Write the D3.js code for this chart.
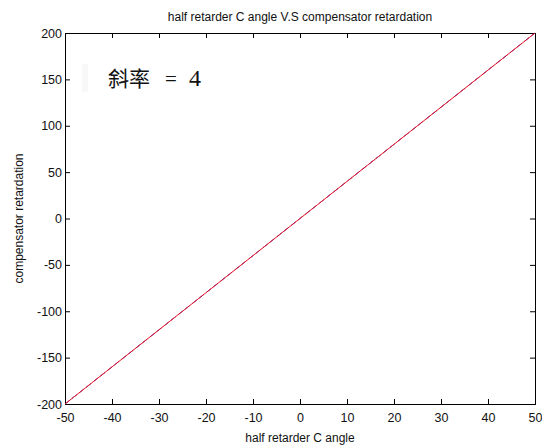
<!DOCTYPE html>
<html>
<head>
<meta charset="utf-8">
<script src="https://cdn.jsdelivr.net/npm/d3@7"></script>
<style>
  body { margin: 0; background: #fff; }
  svg text { font-family: "Liberation Sans", Arial, sans-serif; fill: #111; }
</style>
</head>
<body>
<div id="chart"></div>
<script>
var angleData = [-50, -45, -40, -35, -30, -25, -20, -15, -10, -5, 0, 5, 10, 15, 20, 25, 30, 35, 40, 45, 50];
var retardData = [-200, -180, -160, -140, -120, -100, -80, -60, -40, -20, 0, 20, 40, 60, 80, 100, 120, 140, 160, 180, 200];
var fitAngle = [-50, 50];
var fitRetard = [-200, 200];

var xTicks = [-50, -40, -30, -20, -10, 0, 10, 20, 30, 40, 50];
var yTicks = [-200, -150, -100, -50, 0, 50, 100, 150, 200];

var width = 542, height = 446;
var margin = {left: 65, right: 7, top: 33, bottom: 42};

var svg = d3.select("#chart").append("svg")
    .attr("width", width)
    .attr("height", height);

var x = d3.scaleLinear()
    .domain([-50, 50])
    .range([margin.left, width - margin.right]);

var y = d3.scaleLinear()
    .domain([-200, 200])
    .range([height - margin.bottom, margin.top]);

// plain hyphen for negatives, like matlab
var fmt = d => String(d);

// axes, ticks pointing inward like matlab
svg.append("g")
    .attr("transform", "translate(0," + y(-200) + ")")
    .call(d3.axisBottom(x).tickValues(xTicks).tickFormat(fmt).tickSizeInner(-5).tickSizeOuter(0).tickPadding(9));
svg.append("g")
    .attr("transform", "translate(" + x(-50) + ",0)")
    .call(d3.axisLeft(y).tickValues(yTicks).tickFormat(fmt).tickSizeInner(-5).tickSizeOuter(0).tickPadding(3));
svg.append("g")
    .attr("transform", "translate(0," + y(200) + ")")
    .call(d3.axisTop(x).tickValues(xTicks).tickSizeInner(-5).tickSizeOuter(0).tickFormat(""));
svg.append("g")
    .attr("transform", "translate(" + x(50) + ",0)")
    .call(d3.axisRight(y).tickValues(yTicks).tickSizeInner(-5).tickSizeOuter(0).tickFormat(""));

svg.selectAll(".domain").remove();
svg.selectAll(".tick line").attr("stroke", "#000");
svg.selectAll(".tick text").style("font-size", "12.5px").attr("fill", "#111");

// box
svg.append("rect")
    .attr("x", x(-50) + 0.5)
    .attr("y", y(200) + 0.5)
    .attr("width", x(50) - x(-50))
    .attr("height", y(-200) - y(200))
    .attr("fill", "none")
    .attr("stroke", "#000");

var line = d3.line()
    .x(d => x(d[0]))
    .y(d => y(d[1]));

svg.append("path")
    .datum(d3.zip(angleData, retardData))
    .attr("d", line)
    .attr("fill", "none")
    .attr("stroke", "#2020c0")
    .attr("stroke-width", 1)
    .attr("stroke-dasharray", "6,3");

svg.append("path")
    .datum(d3.zip(fitAngle, fitRetard))
    .attr("d", line)
    .attr("fill", "none")
    .attr("stroke", "#f0141e")
    .attr("stroke-width", 1);

// title and labels
svg.append("text")
    .attr("x", (x(-50) + x(50)) / 2)
    .attr("y", 21)
    .attr("text-anchor", "middle")
    .style("font-size", "12px")
    .text("half retarder C angle V.S compensator retardation");

svg.append("text")
    .attr("x", (x(-50) + x(50)) / 2)
    .attr("y", 442)
    .attr("text-anchor", "middle")
    .style("font-size", "12px")
    .text("half retarder C angle");

svg.append("text")
    .attr("transform", "translate(23," + (y(0)) + ") rotate(-90)")
    .attr("text-anchor", "middle")
    .style("font-size", "12px")
    .text("compensator retardation");

// slope annotation (faint legend marker on its left)
svg.append("rect")
    .attr("x", 82).attr("y", 64)
    .attr("width", 6).attr("height", 28)
    .attr("fill", "#f8f8f8");

var note = svg.append("text")
    .attr("y", 86)
    .style("font-size", "21px");
note.append("tspan")
    .attr("x", 108)
    .style("font-family", "'Noto Sans CJK TC', sans-serif")
    .text("斜率");
note.append("tspan")
    .attr("x", 165)
    .style("font-family", "'Liberation Serif', serif")
    .text("=");
note.append("tspan")
    .attr("x", 189)
    .style("font-family", "'Liberation Serif', serif")
    .style("font-size", "24px")
    .text("4");
</script>
</body>
</html>
